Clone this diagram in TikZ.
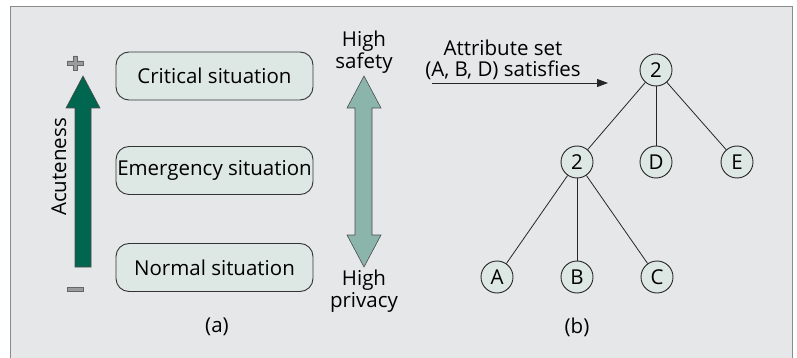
\documentclass[tikz,border=0pt]{standalone}
\usepackage{fontspec}
\setmainfont{Open Sans}
\usetikzlibrary{arrows.meta}
\definecolor{panelgray}{HTML}{E6E7E9}
\definecolor{framegray}{HTML}{8A8B8D}
\definecolor{boxfill}{HTML}{DDE7E3}
\definecolor{darkteal}{HTML}{00664F}
\definecolor{lightteal}{HTML}{8BB5AB}
\definecolor{signgray}{HTML}{9A9B9D}
\tikzset{
    situation/.style={draw=black!80, line width=0.9pt, fill=boxfill, rounded corners=13pt, minimum width=197pt, minimum height=48pt, inner sep=0pt, font=\fontsize{20.5}{24}\selectfont},
    attr/.style={circle, draw=black!85, line width=0.9pt, fill=boxfill, minimum size=32pt, inner sep=0pt, font=\fontsize{20.5}{24}\selectfont},
    caption/.style={align=center, inner sep=0pt, font=\fontsize{20.5}{21.5}\selectfont}
}
\begin{document}
\begin{tikzpicture}[x=1pt, y=-1pt]
    \useasboundingbox (0,0) rectangle (797,358);
    \fill[white] (0,0) rectangle (797,358);
    \filldraw[fill=panelgray, draw=framegray, line width=1pt] (10,358) -- (10,7) -- (792,7) -- (792,358);

    \node[situation] (critical) at (214.5,76) {Critical situation};
    \node[situation] (emergency) at (214.5,170.5) {Emergency situation};
    \node[situation] (normal) at (214.5,267.5) {Normal situation};

    \filldraw[fill=darkteal, draw=black!70, line width=0.6pt] (83,76) -- (100,108) -- (91,108) -- (91,267) -- (75,267) -- (75,108) -- (66,108) -- cycle;
    \filldraw[fill=signgray, draw=black!60, line width=0.6pt] (73,56) -- (77,56) -- (77,61) -- (83,61) -- (83,65) -- (77,65) -- (77,70) -- (73,70) -- (73,65) -- (67,65) -- (67,61) -- (73,61) -- cycle;
    \filldraw[fill=signgray, draw=black!60, line width=0.6pt] (67,287) rectangle (83,291);
    \node[caption, rotate=90] (acute) at (59,167) {Acuteness};

    \filldraw[fill=lightteal, draw=black!70, line width=0.6pt] (364,76) -- (381,108) -- (372,108) -- (372,235) -- (381,235) -- (364,267) -- (347,235) -- (355,235) -- (355,108) -- (347,108) -- cycle;
    \node[caption] (safety) at (364,52) {High\\safety};
    \node[caption] (privacy) at (364,291) {High\\privacy};
    \node[caption] (capa) at (217,327) {(a)};

    \node[attr] (root) at (656,70) {2};
    \node[attr] (inner) at (577,162) {2};
    \node[attr] (d) at (656,162) {D};
    \node[attr] (e) at (737,162) {E};
    \node[attr] (a) at (497,277) {A};
    \node[attr] (b) at (577,277) {B};
    \node[attr] (c) at (657,277) {C};
    \draw[black!85, line width=0.8pt] (root) -- (inner);
    \draw[black!85, line width=0.8pt] (root) -- (d);
    \draw[black!85, line width=0.8pt] (root) -- (e);
    \draw[black!85, line width=0.8pt] (inner) -- (a);
    \draw[black!85, line width=0.8pt] (inner) -- (b);
    \draw[black!85, line width=0.8pt] (inner) -- (c);

    \node[caption] (attrset) at (503,60) {Attribute set\\(A, B, D) satisfies};
    \coordinate (from) at (432,83);
    \coordinate (to) at (608,83);
    \draw[-{Triangle[length=11pt, width=8pt]}, black!85, line width=0.8pt] (from) -- (to);
    \node[caption] (capb) at (577,327) {(b)};
\end{tikzpicture}
\end{document}
